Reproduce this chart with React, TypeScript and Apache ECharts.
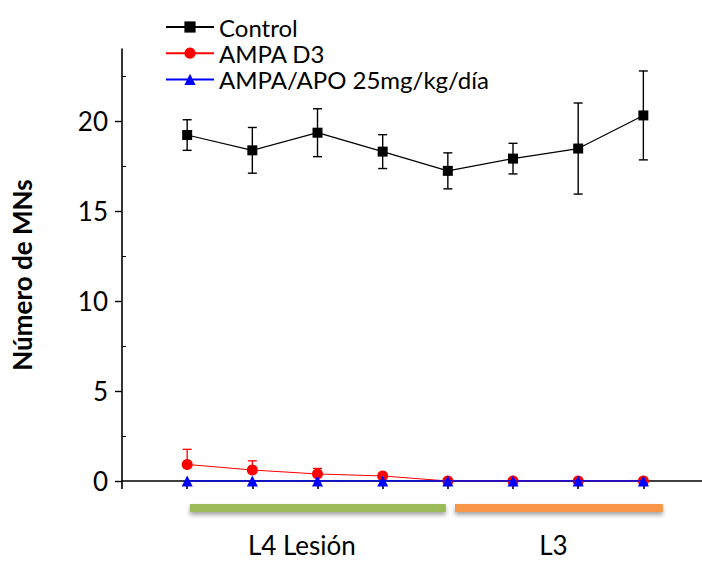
import React, { useEffect, useRef } from "react";
import * as echarts from "echarts";

// ---- data ----
const positions = [1, 2, 3, 4, 5, 6, 7, 8];
const controlMean = [19.22, 18.37, 19.35, 18.3, 17.23, 17.91, 18.47, 20.31];
const controlErr = [0.85, 1.27, 1.33, 0.94, 1.0, 0.85, 2.53, 2.47];
const ampaMean = [0.92, 0.61, 0.39, 0.28, 0, 0, 0, 0];
const ampaErr = [0.84, 0.51, 0.31, 0.04, 0, 0, 0, 0];
const apoMean = [0, 0, 0, 0, 0, 0, 0, 0];
const seriesNames = ["Control", "AMPA D3", "AMPA/APO 25mg/kg/día"];
const yTicks = [0, 5, 10, 15, 20];
const yMinorTicks = [2.5, 7.5, 12.5, 17.5, 22.5];
const groupNames = ["L4 Lesión", "L3"];
const groupStart = [1.04, 5.11];
const groupEnd = [4.97, 8.3];
const groupLabelAt = [2.76, 6.62];

const FONT = "Lato, 'Open Sans', sans-serif";
const groupColors = ["#9BBB59", "#F79646"];

function errorSeries(name: string, mean: number[], err: number[], color: string, both: boolean, width: number) {
  const data = positions
    .map((x, i) => [x, both ? mean[i] - err[i] : mean[i], mean[i] + err[i]])
    .filter((d) => d[2] > d[1]);
  return {
    type: "custom",
    name,
    z: 1,
    silent: true,
    clip: false,
    data,
    renderItem: (params: any, api: any) => {
      const x = api.value(0);
      const lo = api.coord([x, api.value(1)]);
      const hi = api.coord([x, api.value(2)]);
      const hw = 4.5;
      const style = { stroke: color, lineWidth: width };
      const children: any[] = [
        { type: "line", shape: { x1: hi[0], y1: hi[1], x2: lo[0], y2: lo[1] }, style },
        { type: "line", shape: { x1: hi[0] - hw, y1: hi[1], x2: hi[0] + hw, y2: hi[1] }, style },
      ];
      if (both) {
        children.push({ type: "line", shape: { x1: lo[0] - hw, y1: lo[1], x2: lo[0] + hw, y2: lo[1] }, style });
      }
      return { type: "group", children };
    },
  };
}

export default function App() {
  const ref = useRef<HTMLDivElement>(null);
  useEffect(() => {
    if (!ref.current) return;
    const chart = echarts.init(ref.current, null, { renderer: "svg" });
    const groupData = groupNames.map((n, i) => [groupStart[i], groupEnd[i], groupLabelAt[i], i]);
    chart.setOption({
      animation: false,
      backgroundColor: "#ffffff",
      textStyle: { fontFamily: FONT },
      grid: { left: 122, right: 0, top: 49, bottom: 80, containLabel: false },
      legend: {
        show: true,
        orient: "vertical",
        left: 165,
        top: 15,
        padding: 0,
        itemWidth: 48,
        itemHeight: 14,
        itemGap: 2.2,
        data: seriesNames,
        textStyle: { fontFamily: FONT, fontSize: 24, lineHeight: 24, color: "#000" },
      },
      xAxis: {
        type: "value",
        min: 0,
        max: 8.9,
        interval: 1,
        axisLine: { show: true, lineStyle: { color: "#000", width: 1.6 } },
        axisTick: { show: true, inside: false, length: 8, customValues: [0, 1, 2, 3, 4, 5, 6, 7, 8], lineStyle: { color: "#000", width: 1.6 } },
        axisLabel: { show: false },
        splitLine: { show: false },
      },
      yAxis: [
        {
          type: "value",
          min: 0,
          max: 24,
          interval: 5,
          axisLine: { show: true, lineStyle: { color: "#000", width: 1.6 } },
          axisTick: { show: true, inside: false, length: 7, customValues: yTicks, lineStyle: { color: "#000", width: 1.4 } },
          axisLabel: { show: true, customValues: yTicks, margin: 14, fontFamily: FONT, fontSize: 26, color: "#000" },
          splitLine: { show: false },
        },
        {
          type: "value",
          min: 0,
          max: 24,
          interval: 5,
          position: "left",
          axisLine: { show: false },
          axisTick: { show: true, inside: true, length: 4, customValues: yMinorTicks, lineStyle: { color: "#000", width: 1 } },
          axisLabel: { show: false },
          splitLine: { show: false },
        },
      ],
      graphic: [
        {
          type: "text",
          x: 22,
          y: 275,
          rotation: Math.PI / 2,
          style: {
            text: "Número de MNs",
            font: `bold 26px ${FONT}`,
            fill: "#000",
            align: "center",
            verticalAlign: "middle",
          },
        },
      ],
      series: [
        errorSeries("err-control", controlMean, controlErr, "#000", true, 1.4),
        errorSeries("err-ampa", ampaMean, ampaErr, "#ff0000", false, 1.3),
        {
          type: "line",
          name: seriesNames[0],
          data: positions.map((x, i) => [x, controlMean[i]]),
          symbol: "rect",
          symbolSize: 10,
          z: 3,
          lineStyle: { color: "#000", width: 1.2 },
          itemStyle: { color: "#000" },
        },
        {
          type: "line",
          name: seriesNames[1],
          data: positions.map((x, i) => [x, ampaMean[i]]),
          symbol: "circle",
          symbolSize: 11,
          z: 4,
          lineStyle: { color: "#ff0000", width: 1 },
          itemStyle: { color: "#ff0000" },
        },
        {
          type: "line",
          name: seriesNames[2],
          data: positions.map((x, i) => [x, apoMean[i]]),
          symbol: "triangle",
          symbolSize: 11,
          z: 5,
          lineStyle: { color: "#0000ff", width: 1.5 },
          itemStyle: { color: "#0000ff" },
        },
        {
          type: "custom",
          name: "groups",
          silent: true,
          clip: false,
          data: groupData,
          renderItem: (params: any, api: any) => {
            const s = api.coord([api.value(0), 0]);
            const e = api.coord([api.value(1), 0]);
            const l = api.coord([api.value(2), 0]);
            const idx = api.value(3);
            return {
              type: "group",
              children: [
                {
                  type: "rect",
                  shape: { x: s[0], y: s[1] + 23, width: e[0] - s[0], height: 8 },
                  style: {
                    fill: groupColors[idx],
                    shadowBlur: 4,
                    shadowOffsetY: 3,
                    shadowColor: "rgba(0,0,0,0.35)",
                  },
                },
                {
                  type: "text",
                  x: l[0],
                  y: s[1] + 64,
                  style: {
                    text: groupNames[idx],
                    font: `26px ${FONT}`,
                    lineHeight: 26,
                    fill: "#000",
                    align: "center",
                    verticalAlign: "middle",
                  },
                },
              ],
            };
          },
        },
      ],
    });
    return () => chart.dispose();
  }, []);
  return (
    <div
      ref={ref}
      style={{ position: "absolute", left: 0, top: 0, width: 702, height: 561 }}
    />
  );
}
